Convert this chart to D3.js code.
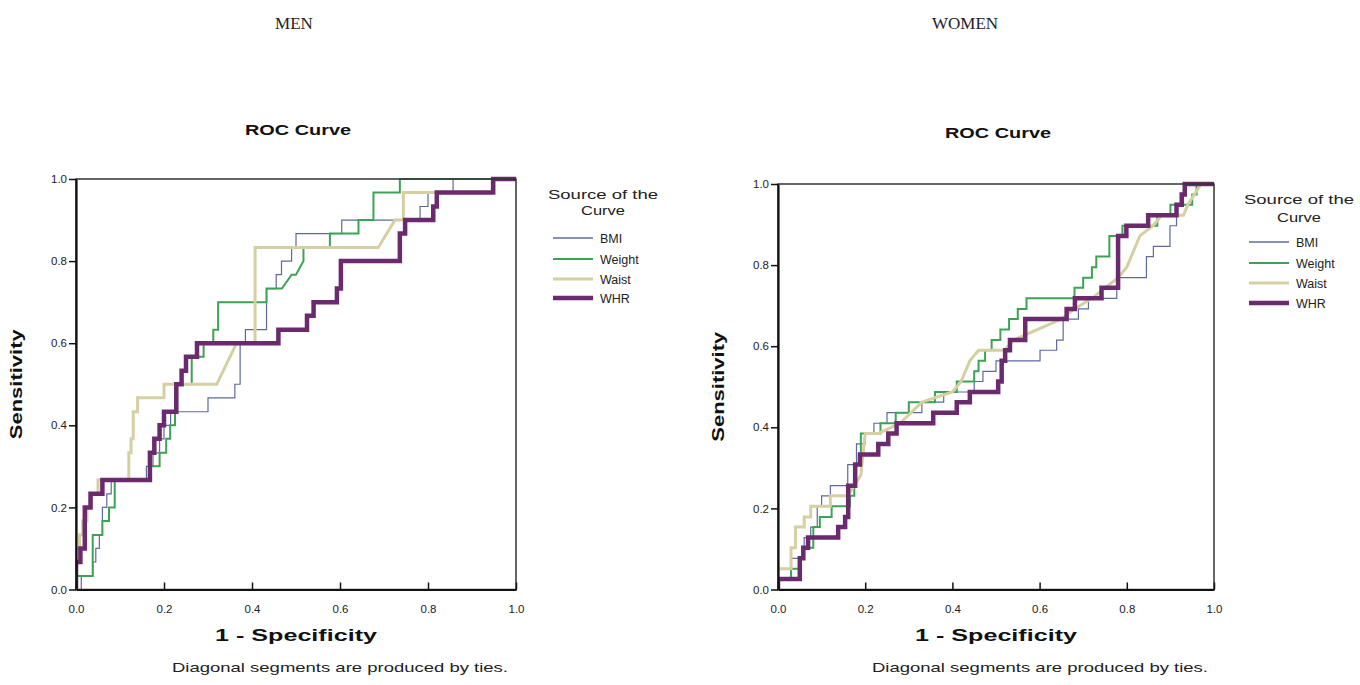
<!DOCTYPE html>
<html><head><meta charset="utf-8">
<script src="https://cdn.jsdelivr.net/npm/d3@7"></script>
<style>body{margin:0;background:#fff}svg{display:block}</style>
</head><body><svg id="c" width="1360" height="685"></svg>
<script>
// ---------- data ----------
const tickValues = [0, 0.2, 0.4, 0.6, 0.8, 1.0];
const tickLabels = ["0.0", "0.2", "0.4", "0.6", "0.8", "1.0"];
const seriesNames = ["BMI", "Weight", "Waist", "WHR"];
const panelTitles = ["MEN", "WOMEN"];

// MEN: [1 - specificity, sensitivity] vertices of each ROC curve
const menBMI = [[0,0],[0.012,0],[0.012,0.033],[0.038,0.033],[0.038,0.067],[0.045,0.067],[0.045,0.1],[0.053,0.1],[0.053,0.133],[0.06,0.133],[0.06,0.2],[0.07,0.2],[0.07,0.233],[0.08,0.233],[0.08,0.267],[0.16,0.267],[0.16,0.3],[0.175,0.3],[0.175,0.333],[0.19,0.333],[0.19,0.367],[0.2,0.367],[0.2,0.4],[0.215,0.4],[0.215,0.433],[0.3,0.433],[0.3,0.467],[0.361,0.467],[0.361,0.5],[0.373,0.5],[0.373,0.6],[0.385,0.6],[0.385,0.633],[0.433,0.633],[0.433,0.733],[0.455,0.733],[0.455,0.767],[0.467,0.767],[0.467,0.8],[0.49,0.8],[0.49,0.833],[0.5,0.833],[0.5,0.867],[0.604,0.867],[0.604,0.9],[0.782,0.9],[0.782,0.933],[0.8,0.933],[0.8,0.967],[0.857,0.967],[0.857,1],[1,1]];
const menWeight = [[0,0],[0,0.033],[0.038,0.033],[0.038,0.133],[0.06,0.133],[0.06,0.167],[0.075,0.167],[0.075,0.2],[0.088,0.2],[0.088,0.267],[0.17,0.267],[0.17,0.3],[0.19,0.3],[0.19,0.333],[0.205,0.333],[0.205,0.367],[0.214,0.367],[0.214,0.4],[0.225,0.4],[0.225,0.5],[0.263,0.5],[0.263,0.567],[0.29,0.567],[0.29,0.6],[0.312,0.6],[0.312,0.633],[0.323,0.633],[0.323,0.7],[0.433,0.7],[0.433,0.733],[0.468,0.733],[0.49,0.767],[0.5,0.767],[0.517,0.8],[0.517,0.833],[0.577,0.833],[0.577,0.867],[0.642,0.867],[0.642,0.9],[0.676,0.9],[0.676,0.967],[0.736,0.967],[0.736,1],[1,1]];
const menWaist = [[0,0],[0,0.1],[0.008,0.1],[0.008,0.133],[0.015,0.133],[0.015,0.167],[0.025,0.167],[0.025,0.2],[0.035,0.2],[0.035,0.233],[0.05,0.233],[0.05,0.267],[0.12,0.267],[0.12,0.333],[0.125,0.333],[0.125,0.367],[0.13,0.367],[0.13,0.433],[0.14,0.433],[0.14,0.467],[0.2,0.467],[0.2,0.5],[0.32,0.5],[0.365,0.6],[0.407,0.6],[0.407,0.833],[0.687,0.833],[0.725,0.9],[0.744,0.9],[0.744,0.967],[0.95,0.967],[0.95,1],[1,1]];
const menWHR = [[0,0],[0,0.067],[0.01,0.067],[0.01,0.1],[0.02,0.1],[0.02,0.2],[0.033,0.2],[0.033,0.233],[0.06,0.233],[0.06,0.267],[0.168,0.267],[0.168,0.333],[0.178,0.333],[0.178,0.367],[0.19,0.367],[0.19,0.4],[0.2,0.4],[0.2,0.433],[0.228,0.433],[0.228,0.5],[0.24,0.5],[0.24,0.533],[0.25,0.533],[0.25,0.567],[0.275,0.567],[0.275,0.6],[0.46,0.6],[0.46,0.633],[0.525,0.633],[0.525,0.667],[0.54,0.667],[0.54,0.7],[0.593,0.7],[0.593,0.733],[0.602,0.733],[0.602,0.8],[0.736,0.8],[0.736,0.867],[0.748,0.867],[0.748,0.9],[0.812,0.9],[0.812,0.933],[0.82,0.933],[0.82,0.967],[0.948,0.967],[0.948,1],[1,1]];

// WOMEN
const womenBMI = [[0,0],[0,0.026],[0.03,0.026],[0.03,0.077],[0.06,0.077],[0.06,0.128],[0.075,0.128],[0.075,0.154],[0.09,0.154],[0.09,0.205],[0.1,0.205],[0.1,0.231],[0.12,0.231],[0.12,0.256],[0.16,0.256],[0.16,0.308],[0.18,0.308],[0.18,0.359],[0.2,0.359],[0.2,0.385],[0.22,0.385],[0.22,0.41],[0.25,0.41],[0.25,0.436],[0.33,0.436],[0.33,0.462],[0.38,0.462],[0.38,0.487],[0.45,0.487],[0.45,0.513],[0.47,0.513],[0.47,0.538],[0.5,0.538],[0.5,0.564],[0.601,0.564],[0.601,0.59],[0.639,0.59],[0.639,0.615],[0.654,0.615],[0.654,0.667],[0.689,0.667],[0.689,0.692],[0.712,0.692],[0.712,0.718],[0.777,0.718],[0.777,0.769],[0.845,0.769],[0.845,0.821],[0.861,0.821],[0.861,0.846],[0.899,0.846],[0.899,0.897],[0.914,0.897],[0.914,0.949],[0.93,0.949],[0.93,1],[1,1]];
const womenWeight = [[0,0],[0,0.026],[0.03,0.026],[0.03,0.051],[0.05,0.051],[0.05,0.077],[0.06,0.077],[0.06,0.103],[0.081,0.103],[0.081,0.154],[0.096,0.154],[0.096,0.179],[0.123,0.179],[0.123,0.205],[0.165,0.205],[0.165,0.231],[0.175,0.231],[0.175,0.308],[0.19,0.308],[0.19,0.385],[0.235,0.385],[0.235,0.41],[0.27,0.41],[0.27,0.436],[0.3,0.436],[0.3,0.462],[0.36,0.462],[0.36,0.487],[0.41,0.487],[0.41,0.513],[0.45,0.513],[0.45,0.538],[0.46,0.538],[0.46,0.564],[0.475,0.564],[0.475,0.59],[0.49,0.59],[0.49,0.615],[0.51,0.615],[0.51,0.641],[0.53,0.641],[0.53,0.667],[0.55,0.667],[0.55,0.692],[0.57,0.692],[0.57,0.718],[0.68,0.718],[0.68,0.744],[0.7,0.744],[0.7,0.769],[0.72,0.769],[0.72,0.795],[0.73,0.795],[0.73,0.821],[0.76,0.821],[0.76,0.872],[0.79,0.872],[0.79,0.897],[0.87,0.897],[0.87,0.923],[0.9,0.923],[0.9,0.949],[0.95,0.949],[0.95,0.974],[0.96,0.974],[0.96,1],[1,1]];
const womenWaist = [[0,0],[0,0.051],[0.03,0.051],[0.03,0.103],[0.04,0.103],[0.04,0.154],[0.06,0.154],[0.06,0.179],[0.075,0.179],[0.075,0.205],[0.12,0.205],[0.12,0.231],[0.16,0.231],[0.19,0.282],[0.2,0.385],[0.23,0.385],[0.28,0.41],[0.33,0.462],[0.4,0.487],[0.42,0.513],[0.44,0.564],[0.46,0.59],[0.52,0.59],[0.54,0.615],[0.65,0.667],[0.68,0.692],[0.72,0.718],[0.78,0.769],[0.8,0.795],[0.83,0.872],[0.86,0.897],[0.88,0.923],[0.93,0.923],[0.94,0.949],[0.97,1],[1,1]];
const womenWHR = [[0,0],[0,0.026],[0.05,0.026],[0.05,0.077],[0.058,0.077],[0.058,0.103],[0.069,0.103],[0.069,0.128],[0.138,0.128],[0.138,0.154],[0.154,0.154],[0.154,0.179],[0.161,0.179],[0.161,0.256],[0.177,0.256],[0.177,0.308],[0.188,0.308],[0.188,0.333],[0.23,0.333],[0.23,0.359],[0.253,0.359],[0.253,0.385],[0.272,0.385],[0.272,0.41],[0.356,0.41],[0.356,0.436],[0.41,0.436],[0.41,0.462],[0.44,0.462],[0.44,0.487],[0.505,0.487],[0.505,0.513],[0.513,0.513],[0.513,0.564],[0.521,0.564],[0.521,0.59],[0.532,0.59],[0.532,0.615],[0.567,0.615],[0.567,0.667],[0.662,0.667],[0.662,0.692],[0.681,0.692],[0.681,0.718],[0.742,0.718],[0.742,0.744],[0.78,0.744],[0.78,0.872],[0.799,0.872],[0.799,0.897],[0.849,0.897],[0.849,0.923],[0.914,0.923],[0.914,0.949],[0.926,0.949],[0.926,0.974],[0.933,0.974],[0.933,1],[1,1]];

// ---------- style ----------
const seriesColor = {BMI:"#5e6a9e", Weight:"#3da354", Waist:"#d5d0a2", WHR:"#6c2a6e"};
const seriesWidth = {BMI:1.2, Weight:2, Waist:3, WHR:4.5};
const FONT = "'Liberation Sans', Arial, sans-serif";

const panels = [
  {title:"MEN", titleX:294, x0:76, x1:516, y0:589.5, y1:179, rocY:135, legX:553, legTitleY:[199,215], legY:[238,259,279,298],
   data:{BMI:menBMI, Weight:menWeight, Waist:menWaist, WHR:menWHR}},
  {title:"WOMEN", titleX:965, x0:778, x1:1214, y0:589.5, y1:184, rocY:138, legX:1249, legTitleY:[204,222], legY:[242,263,283,303],
   data:{BMI:womenBMI, Weight:womenWeight, Waist:womenWaist, WHR:womenWHR}}
];

const svg = d3.select("#c");

function text(g, x, y, s, o) {
  const t = g.append("text").attr("x", x).attr("y", y).text(s)
    .attr("font-family", o.family || FONT)
    .attr("font-size", o.size || 12)
    .attr("font-weight", o.weight || "normal")
    .attr("fill", o.fill || "#111")
    .attr("text-anchor", o.anchor || "start");
  if (o.len) t.attr("textLength", o.len).attr("lengthAdjust", "spacingAndGlyphs");
  if (o.rotate) t.attr("transform", `rotate(${o.rotate},${x},${y})`);
  return t;
}

panels.forEach((p, pi) => {
  const g = svg.append("g");
  const x = d3.scaleLinear().domain([0, 1]).range([p.x0, p.x1]);
  const y = d3.scaleLinear().domain([0, 1]).range([p.y0, p.y1]);

  // panel heading
  text(g, p.titleX, 29, p.title, {family:"'Liberation Serif','DejaVu Serif',serif", size:17, anchor:"middle", fill:"#222"});
  text(g, (p.x0 + p.x1) / 2 + 2, p.rocY, "ROC Curve", {size:15, weight:"bold", anchor:"middle", len:106});

  // curves
  const line = d3.line().x(d => x(d[0])).y(d => y(d[1]));
  const clip = "clip" + pi;
  g.append("clipPath").attr("id", clip).append("rect")
    .attr("x", p.x0).attr("y", p.y1 - 3).attr("width", p.x1 - p.x0).attr("height", p.y0 - p.y1 + 3);
  const cg = g.append("g").attr("clip-path", `url(#${clip})`);
  seriesNames.forEach(s => {
    cg.append("path").datum(p.data[s]).attr("d", line)
      .attr("fill", "none").attr("stroke", seriesColor[s]).attr("stroke-width", seriesWidth[s])
      .attr("stroke-linejoin", "miter").attr("stroke-linecap", "square");
  });

  // frame
  g.append("rect").attr("x", p.x0).attr("y", p.y1).attr("width", p.x1 - p.x0).attr("height", p.y0 - p.y1)
    .attr("fill", "none").attr("stroke", "#333").attr("stroke-width", 1.5);

  // axes
  const xAxis = d3.axisBottom(x).tickValues(tickValues).tickFormat((d, i) => tickLabels[i]).tickSize(7).tickSizeOuter(0).tickPadding(4);
  const yAxis = d3.axisLeft(y).tickValues(tickValues).tickFormat((d, i) => tickLabels[i]).tickSize(7).tickSizeOuter(0).tickPadding(2);
  const gx = g.append("g").attr("transform", `translate(0,${p.y0})`).call(xAxis);
  const gy = g.append("g").attr("transform", `translate(${p.x0},0)`).call(yAxis);
  [gx, gy].forEach(a => {
    a.select(".domain").attr("stroke", "#111").attr("stroke-width", 2.2);
    a.selectAll(".tick line").attr("stroke", "#111").attr("stroke-width", 1.5);
    a.selectAll(".tick text").attr("font-family", FONT).attr("font-size", 11.5).attr("fill", "#222");
  });
  gx.selectAll(".tick line").attr("y1", 0).attr("y2", -7);
  gx.selectAll(".tick text").attr("y", 15);

  // axis titles
  text(g, (p.x0 + p.x1) / 2, 641, "1 - Specificity", {size:17, weight:"bold", anchor:"middle", len:162});
  text(g, p.x0 - 54, (p.y0 + p.y1) / 2, "Sensitivity", {size:16, weight:"bold", anchor:"middle", len:110, rotate:-90});
  text(g, (p.x0 + p.x1) / 2 + 44, 672, "Diagonal segments are produced by ties.", {size:13.5, anchor:"middle", len:336, fill:"#222"});

  // legend
  const lg = g.append("g");
  text(lg, p.legX + 50, p.legTitleY[0], "Source of the", {size:13, anchor:"middle", len:110, fill:"#222"});
  text(lg, p.legX + 50, p.legTitleY[1], "Curve", {size:13, anchor:"middle", len:44, fill:"#222"});
  seriesNames.forEach((s, i) => {
    lg.append("line").attr("x1", p.legX).attr("x2", p.legX + 40)
      .attr("y1", p.legY[i]).attr("y2", p.legY[i])
      .attr("stroke", seriesColor[s]).attr("stroke-width", seriesWidth[s] === 1.2 ? 1.5 : seriesWidth[s]);
    text(lg, p.legX + 47, p.legY[i] + 4.5, s, {size:12.5, fill:"#222"});
  });
});
</script></body></html>
